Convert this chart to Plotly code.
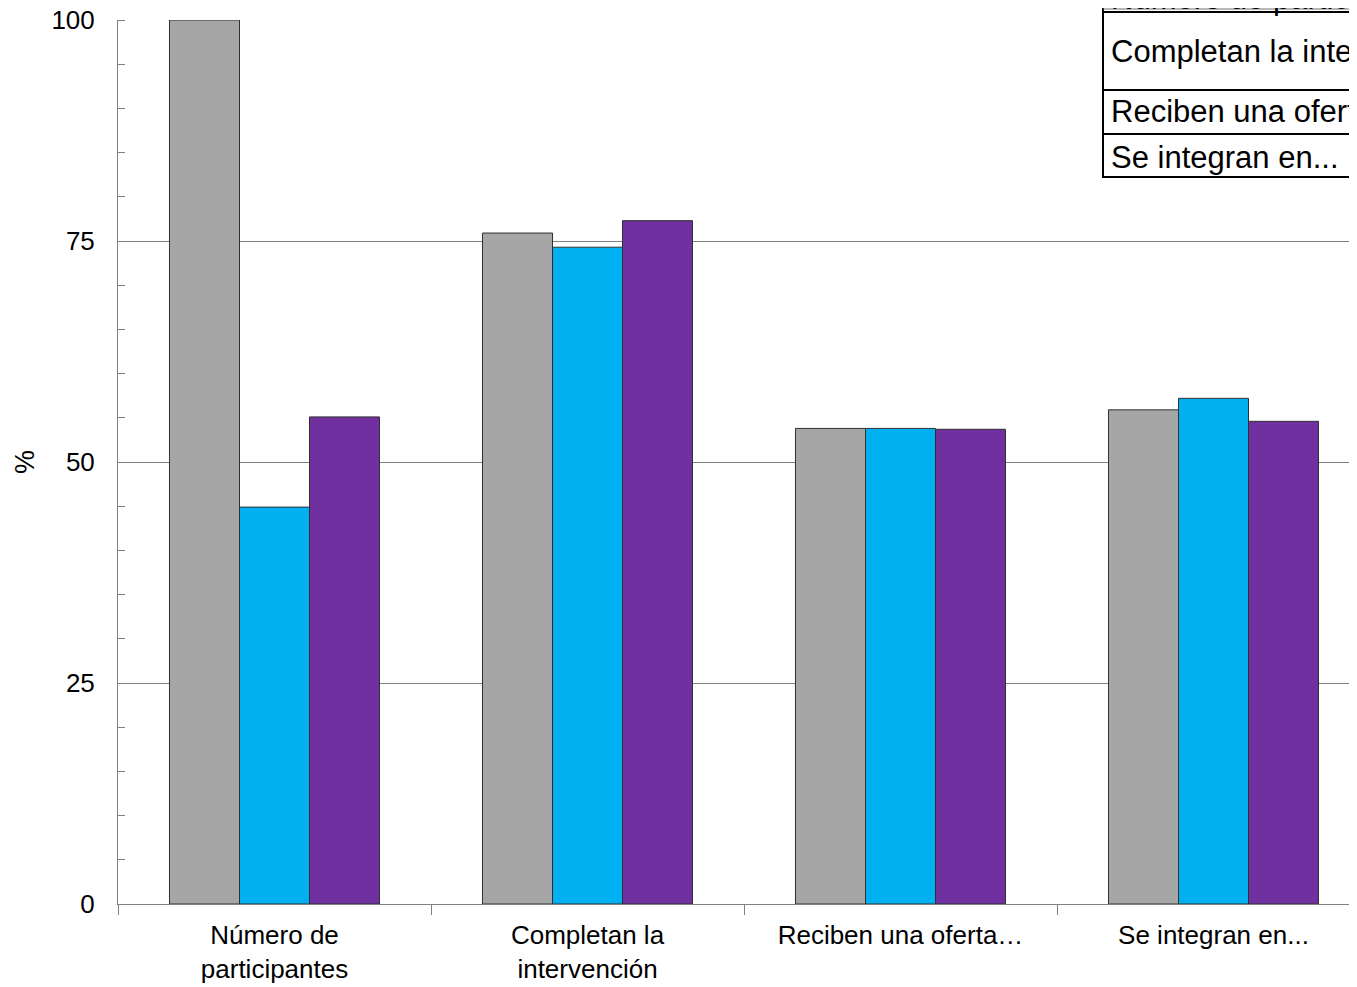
import plotly.graph_objects as go

categories = ["Número de<br>participantes", "Completan la<br>intervención", "Reciben una oferta…", "Se integran en..."]
serie_gris = [100, 75.9, 53.8, 55.9]
serie_azul = [44.9, 74.3, 53.8, 57.2]
serie_morada = [55.1, 77.3, 53.7, 54.6]
series_names = ["Serie 1", "Serie 2", "Serie 3"]
series_colors = ["#A6A6A6", "#00B0F0", "#7030A0"]
table_rows = ["Número de participantes", "Completan la intervención", "Reciben una oferta...", "Se integran en..."]

OFF = 8  # page body margin
W, H = 1357 - OFF, 987 - OFF
L, T = 118 - OFF, 20 - OFF
PLOT_BOTTOM = 904 - OFF
R, B = 0, H - PLOT_BOTTOM
PW, PH = W - L - R, H - T - B

def px(x):
    return (x - OFF - L) / PW

def py(y):
    return (PLOT_BOTTOM - (y - OFF)) / PH

FONT = "Arial, Liberation Sans, sans-serif"

fig = go.Figure()
for name, vals, col in zip(series_names, [serie_gris, serie_azul, serie_morada], series_colors):
    fig.add_trace(go.Bar(x=categories, y=vals, name=name,
                         marker=dict(color=col, line=dict(color="#303030", width=1))))

fig.update_layout(
    width=W, height=H,
    margin=dict(l=L, r=R, t=T, b=B, pad=0, autoexpand=False),
    plot_bgcolor="white", paper_bgcolor="white",
    barmode="group", bargap=0.329, bargroupgap=0,
    showlegend=False,
    font=dict(family=FONT, color="black"),
    xaxis=dict(
        type="category", categoryorder="array", categoryarray=categories,
        range=[-0.5, 2.5 + 300 / 313], automargin=False,
        tickson="boundaries", ticks="outside", ticklen=10, tickcolor="#808080",
        ticklabelstandoff=8,
        showline=True, linecolor="#808080", linewidth=1, showgrid=False,
        tickfont=dict(size=26, family=FONT, color="black"), zeroline=False,
    ),
    yaxis=dict(
        range=[0, 100], tickvals=[0, 25, 50, 75, 100], ticks="", automargin=False,
        showline=True, linecolor="#808080", linewidth=1,
        showgrid=True, gridcolor="#808080", gridwidth=1, zeroline=False,
        ticklabelstandoff=17, ticklabeloverflow="allow",
        tickfont=dict(size=26, family=FONT, color="black"),
        minor=dict(dtick=5, ticks="inside", ticklen=7, tickcolor="#808080", showgrid=False),
    ),
)

fig.add_annotation(text="%", xref="paper", yref="paper", x=px(25), y=py(462),
                   xanchor="center", yanchor="middle",
                   showarrow=False, textangle=-90, font=dict(size=27, family=FONT, color="black"))

# table-like legend at top right
shapes = []
shapes.append(dict(type="rect", xref="paper", yref="paper", x0=px(1103), x1=px(1370),
                   y0=py(177), y1=py(-10), fillcolor="white", line=dict(color="black", width=2), layer="above"))
shapes.append(dict(type="line", xref="paper", yref="paper", x0=px(1103), x1=px(1370),
                   y0=py(9), y1=py(9), line=dict(color="#707070", width=1), layer="above"))
for yy in [12, 90, 134]:
    shapes.append(dict(type="line", xref="paper", yref="paper", x0=px(1103), x1=px(1370),
                       y0=py(yy), y1=py(yy), line=dict(color="black", width=2), layer="above"))
fig.update_layout(shapes=shapes)
row_y = [-2, 52, 112, 157]
for txt, yy in zip(table_rows, row_y):
    fig.add_annotation(text=txt, xref="paper", yref="paper", x=px(1109), y=py(yy),
                       xanchor="left", yanchor="middle", showarrow=False,
                       font=dict(size=31, family=FONT, color="black"))

fig.write_html("out.html")
